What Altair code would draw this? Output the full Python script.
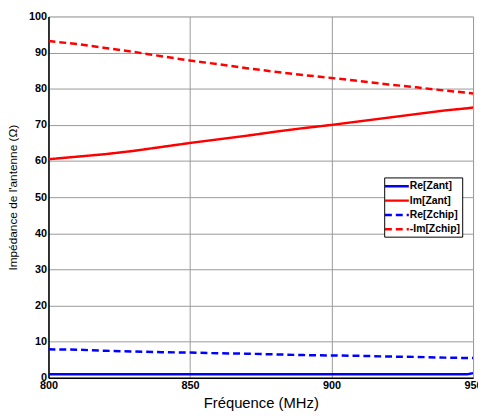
import altair as alt
import pandas as pd

freq = [800, 810, 820, 830, 840, 850, 860, 870, 880, 890, 900, 910, 920, 930, 940, 948, 950]
re_zant = [1.0, 1.0, 1.0, 1.0, 1.0, 1.0, 1.0, 1.0, 1.0, 1.0, 1.0, 1.0, 1.0, 1.0, 1.0, 1.0, 1.3]
im_zant = [60.5, 61.2, 61.9, 62.8, 63.9, 65.0, 66.0, 67.0, 68.1, 69.1, 70.0, 71.0, 72.0, 73.0, 74.0, 74.6, 74.8]
re_zchip = [7.9, 7.8, 7.5, 7.3, 7.1, 7.0, 6.8, 6.7, 6.5, 6.3, 6.2, 6.1, 5.9, 5.8, 5.6, 5.5, 5.5]
mim_zchip = [93.2, 92.4, 91.3, 90.2, 89.0, 87.8, 86.8, 85.7, 84.7, 83.8, 83.0, 82.1, 81.2, 80.4, 79.5, 78.9, 78.7]

series_names = ["Re[Zant]", "Im[Zant]", "Re[Zchip]", "-Im[Zchip]"]
series_colors = ["#0000ff", "#ff0000", "#0000ff", "#ff0000"]
series_dash = [[1, 0], [1, 0], [7, 4], [7, 4]]

rows = []
for name, vals in zip(series_names, [re_zant, im_zant, re_zchip, mim_zchip]):
    for f, v in zip(freq, vals):
        rows.append({"freq": f, "val": v, "series": name})
df = pd.DataFrame(rows)

FONT = "Liberation Sans"

def legend():
    return alt.Legend(title=None, orient="none", legendX=340, legendY=163,
                      symbolType="M-1.5,0L2.9,0", symbolSize=121, symbolStrokeWidth=2.5,
                      labelFont=FONT, labelFontSize=10.5, labelFontWeight="bold",
                      labelColor="#000", strokeColor="#000", fillColor="#fff",
                      padding=2, rowPadding=1.5, labelOffset=10)

common_axis = dict(labelFontWeight="bold", labelFontSize=11, labelFont=FONT,
                   labelColor="#000", titleFont=FONT, titleFontWeight="normal",
                   titleColor="#000", ticks=False, labelFlush=False, labelOverlap=False,
                   domainColor="#000", gridColor="#999", gridWidth=1, domainWidth=1.5)

chart = alt.Chart(df).mark_line(strokeWidth=2.5, clip=True).encode(
    x=alt.X("freq:Q", scale=alt.Scale(domain=[800, 950], nice=False),
            axis=alt.Axis(values=[800, 850, 900, 950], title="Fréquence (MHz)",
                          titleFontSize=15, titlePadding=5, labelPadding=2, **common_axis)),
    y=alt.Y("val:Q", scale=alt.Scale(domain=[0, 100], nice=False),
            axis=alt.Axis(values=list(range(0, 101, 10)), title="Impédance de l'antenne (Ω)",
                          titleFontSize=12, titlePadding=9, labelPadding=2, **common_axis)),
    color=alt.Color("series:N", scale=alt.Scale(domain=series_names, range=series_colors),
                    legend=legend()),
    strokeDash=alt.StrokeDash("series:N", scale=alt.Scale(domain=series_names, range=series_dash),
                              legend=legend()),
).properties(
    width=430, height=366,
    autosize=alt.AutoSizeParams(type="none"),
    padding={"left": 41, "top": 6, "right": 5, "bottom": 34},
).configure_view(stroke="#000", strokeWidth=1.5).configure(background="#fff")

chart.save("out.html", embed_options={"renderer": "svg", "actions": False})
